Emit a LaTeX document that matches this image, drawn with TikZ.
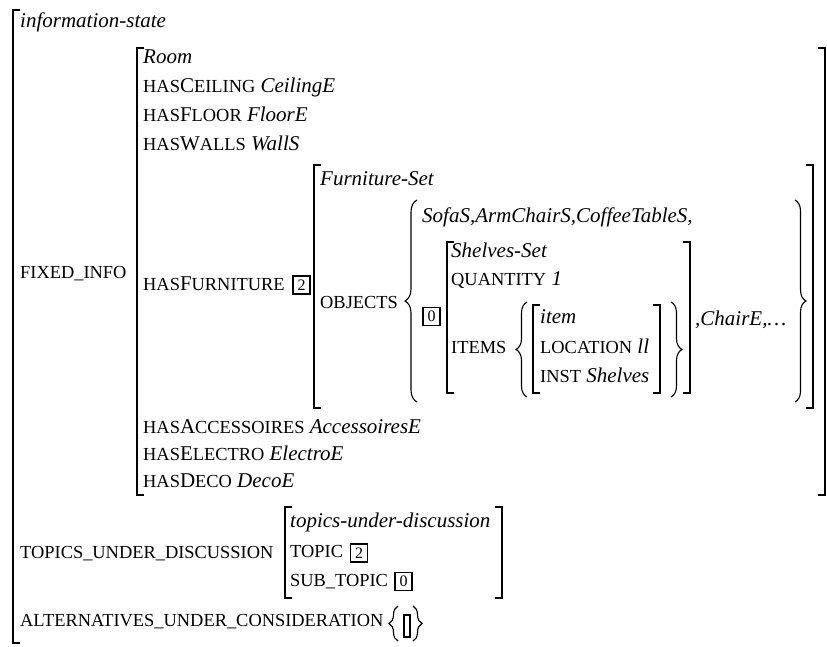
\documentclass[tikz,border=0pt]{standalone}
\usepackage{fontspec}
\setmainfont{Liberation Serif}
\usetikzlibrary{decorations.pathreplacing}
\newcommand\SC[1]{{\fontsize{18.4}{18.4}\selectfont #1}}
\newcommand\LBrk[3]{\draw[brk] ({#1+7},#2) -- (#1,#2) -- (#1,#3) -- ({#1+7},#3);}
\newcommand\RBrk[3]{\draw[brk] ({#1-7},#2) -- (#1,#2) -- (#1,#3) -- ({#1-7},#3);}
\newcommand\LBrc[4]{\draw[brc,decoration={brace,amplitude=#4}] (#1,#3) -- (#1,#2);}
\newcommand\RBrc[4]{\draw[brc,decoration={brace,amplitude=#4}] (#1,#2) -- (#1,#3);}
\begin{document}
\begin{tikzpicture}[x=1pt,y=-1pt,
  brk/.style={line width=1.5pt},
  brc/.style={line width=1.1pt,decorate},
  lbl/.style={anchor=base west,inner sep=0pt,font=\fontsize{21}{21}\selectfont},
  dbox/.style={draw,line width=1.3pt,inner sep=0pt,minimum width=17pt,minimum height=18pt,font=\fontsize{16}{16}\selectfont}]
\useasboundingbox (0,0) rectangle (827,646);
% outer
\draw[brk] (20,10) -- (13,10) -- (13,643) -- (20,643);
\node[lbl] (infostate) at (20,27) {\textit{information-state}};
% fixed info
\node[lbl] (fixed) at (20,278) {\SC{FIXED\_INFO}};
\LBrk{137}{48}{495}
\RBrk{825}{48}{495}
\node[lbl] (room) at (143,63) {\textit{Room}};
\node[lbl] (ceil) at (143,92) {\SC{HAS}C\SC{EILING} \textit{CeilingE}};
\node[lbl] (floor) at (143,121) {\SC{HAS}F\SC{LOOR} \textit{FloorE}};
\node[lbl] (walls) at (143,150) {\SC{HAS}W\SC{ALLS} \textit{WallS}};
\node[lbl] (hasfurn) at (143,290) {\SC{HAS}F\SC{URNITURE}};
\node[dbox] (boxA) at (301.5,285) {2};
% furniture set
\LBrk{314}{165}{408}
\RBrk{813}{165}{408}
\node[lbl] (furnset) at (320,185) {\textit{Furniture-Set}};
\node[lbl] (objects) at (320,308) {\SC{OBJECTS}};
\LBrc{417}{200}{402}{12pt}
\RBrc{795}{200}{402}{11pt}
\node[lbl] (sofa) at (422,222) {\textit{SofaS,ArmChairS,CoffeeTableS,}};
\node[dbox] (boxB) at (431.5,316.5) {0};
% shelves
\LBrk{447}{242}{393}
\RBrk{690}{242}{393}
\node[lbl] (shelvesset) at (451,257) {\textit{Shelves-Set}};
\node[lbl] (quantity) at (451,285) {\SC{QUANTITY} \textit{1}};
\node[lbl] (items) at (451,353) {\SC{ITEMS}};
\LBrc{527}{302}{397}{11pt}
\RBrc{671}{302}{397}{11pt}
\LBrk{533}{305}{393}
\RBrk{660}{305}{393}
\node[lbl] (item) at (540,323) {\textit{item}};
\node[lbl] (location) at (540,353) {\SC{LOCATION} \textit{ll}};
\node[lbl] (inst) at (540,382) {\SC{INST} \textit{Shelves}};
\node[lbl] (chair) at (695,325) {\textit{,ChairE,\ldots}};
% rest of room
\node[lbl] (access) at (143,433) {\SC{HAS}A\SC{CCESSOIRES} \textit{AccessoiresE}};
\node[lbl] (electro) at (143,460) {\SC{HAS}E\SC{LECTRO} \textit{ElectroE}};
\node[lbl] (deco) at (143,487) {\SC{HAS}D\SC{ECO} \textit{DecoE}};
% topics
\node[lbl] (topics) at (20,558) {\SC{TOPICS\_UNDER\_DISCUSSION}};
\LBrk{285}{507}{598}
\RBrk{502}{507}{598}
\node[lbl] (tud) at (290,527) {\textit{topics-under-discussion}};
\node[lbl] (topic) at (290,557) {\SC{TOPIC}};
\node[dbox] (boxC) at (359,553) {2};
\node[lbl] (subtopic) at (290,586) {\SC{SUB\_TOPIC}};
\node[dbox] (boxD) at (403.5,581.5) {0};
% alternatives
\node[lbl] (alts) at (20,626) {\SC{ALTERNATIVES\_UNDER\_CONSIDERATION}};
\LBrc{398}{606}{641}{9pt}
\RBrc{413}{606}{641}{9pt}
\draw[line width=1.2pt] (407,615) -- (404,615) -- (404,637) -- (407,637);
\draw[line width=1.2pt] (407,615) -- (410,615) -- (410,637) -- (407,637);
\end{tikzpicture}
\end{document}
